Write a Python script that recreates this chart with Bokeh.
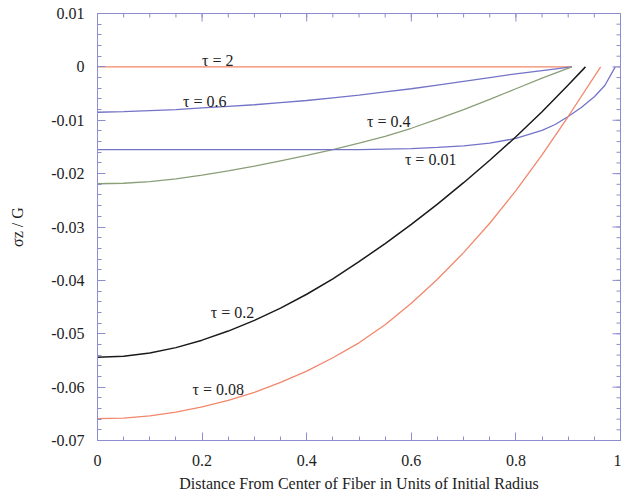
from bokeh.plotting import figure
from bokeh.models import FixedTicker, Range1d
from bokeh.core.properties import value
from bokeh.embed import file_html
from bokeh.resources import INLINE
import numpy as np

# ---- data ----
x_tau2 = [0.0, 0.2, 0.4, 0.6, 0.8, 0.907]
y_tau2 = [0.0, 0.0, 0.0, 0.0, 0.0, 0.0]

x_tau06 = [0.0, 0.05, 0.1, 0.15, 0.2, 0.25, 0.3, 0.35, 0.4, 0.45, 0.5, 0.55, 0.6,
           0.65, 0.7, 0.75, 0.8, 0.85, 0.907]
y_tau06 = [-0.0085, -0.0084, -0.0082, -0.0080, -0.0077, -0.0074, -0.0071, -0.0067,
           -0.0063, -0.0058, -0.0053, -0.0047, -0.0041, -0.0034, -0.0027, -0.0020,
           -0.0013, -0.0007, 0.0]

x_tau04 = [0.0, 0.05, 0.1, 0.15, 0.2, 0.25, 0.3, 0.35, 0.4, 0.45, 0.5, 0.55, 0.6,
           0.65, 0.7, 0.75, 0.8, 0.85, 0.907]
y_tau04 = [-0.0219, -0.0218, -0.0215, -0.0210, -0.0203, -0.0195, -0.0186, -0.0176,
           -0.0166, -0.0155, -0.0143, -0.0130, -0.0115, -0.0098, -0.0080, -0.0061,
           -0.0041, -0.0021, 0.0]

x_tau001 = [0.0, 0.1, 0.2, 0.3, 0.4, 0.5, 0.55, 0.6, 0.65, 0.7, 0.75, 0.8, 0.85,
            0.875, 0.9, 0.925, 0.95, 0.97, 0.99]
y_tau001 = [-0.0155, -0.0155, -0.0155, -0.0155, -0.0155, -0.0155, -0.0154, -0.0153,
            -0.0151, -0.0148, -0.0143, -0.0134, -0.0119, -0.0108, -0.0093, -0.0076,
            -0.0056, -0.0035, 0.0]

x_tau02 = [0.0, 0.05, 0.1, 0.15, 0.2, 0.25, 0.3, 0.35, 0.4, 0.45, 0.5, 0.55, 0.6,
           0.65, 0.7, 0.75, 0.8, 0.85, 0.9, 0.933]
y_tau02 = [-0.0544, -0.0542, -0.0536, -0.0526, -0.0512, -0.0495, -0.0475, -0.0452,
           -0.0426, -0.0397, -0.0365, -0.0331, -0.0295, -0.0257, -0.0217, -0.0175,
           -0.0131, -0.0084, -0.0034, 0.0]

x_tau008 = [0.0, 0.05, 0.1, 0.15, 0.2, 0.25, 0.3, 0.35, 0.4, 0.45, 0.5, 0.55, 0.6,
            0.65, 0.7, 0.75, 0.8, 0.85, 0.9, 0.962]
y_tau008 = [-0.0659, -0.0658, -0.0654, -0.0647, -0.0637, -0.0625, -0.0610, -0.0591,
            -0.0570, -0.0545, -0.0517, -0.0483, -0.0443, -0.0398, -0.0348, -0.0293,
            -0.0232, -0.0165, -0.0093, 0.0]

label_texts = ["τ = 2", "τ = 0.6", "τ = 0.4", "τ = 0.01", "τ = 0.2", "τ = 0.08"]
label_x = [0.230, 0.205, 0.557, 0.637, 0.258, 0.231]
label_y = [0.0012, -0.0064, -0.0102, -0.0173, -0.0460, -0.0604]

x_ticks = [0.0, 0.2, 0.4, 0.6, 0.8, 1.0]
x_tick_labels = ["0", "0.2", "0.4", "0.6", "0.8", "1"]
y_ticks = [0.01, 0.0, -0.01, -0.02, -0.03, -0.04, -0.05, -0.06, -0.07]
y_tick_labels = ["0.01", "0", "-0.01", "-0.02", "-0.03", "-0.04", "-0.05", "-0.06", "-0.07"]

x_label = "Distance From Center of Fiber in Units of Initial Radius"
y_label = "σz / G"

# ---- styling ----
ORANGE = "#f2876b"
BLUE = "#7373c8"
GREEN = "#8a9f78"
BLACK = "#1a1a1a"
AXIS = "#8c8cd0"
SERIF = "Liberation Serif"

W, H = 621, 498
BL, BR, BT, BB = 97, 1, 13, 58
X0, X1, Y0, Y1 = 0.0, 1.0, -0.07, 0.01

p = figure(width=W, height=H, output_backend="svg", toolbar_location=None,
           x_range=Range1d(X0, X1), y_range=Range1d(Y0, Y1),
           min_border_left=BL, min_border_right=BR, min_border_top=BT, min_border_bottom=BB,
           background_fill_color="white", border_fill_color="white")
p.grid.visible = False
p.outline_line_color = AXIS

x_minor = [round(v, 4) for v in np.arange(0, 1.0001, 0.05)]
y_minor = [round(v, 4) for v in np.arange(-0.07, 0.0101, 0.002)]
xt = FixedTicker(ticks=x_ticks, minor_ticks=x_minor)
yt = FixedTicker(ticks=y_ticks, minor_ticks=y_minor)

MAJ, MIN = 8, 4

def style_axis(ax, ticker, labels):
    ax.ticker = ticker
    ax.axis_line_color = AXIS
    ax.major_tick_line_color = AXIS
    ax.minor_tick_line_color = AXIS
    ax.major_tick_in = MAJ
    ax.major_tick_out = 0
    ax.minor_tick_in = MIN
    ax.minor_tick_out = 0
    ax.major_label_text_font = SERIF
    ax.major_label_text_color = "#222222"
    ax.major_label_text_font_size = "16px"
    ax.axis_label_text_font = SERIF
    ax.axis_label_text_font_style = "normal"
    ax.axis_label_text_color = "#222222"
    ax.axis_label_text_font_size = "16px"
    ax.major_label_overrides = labels

style_axis(p.xaxis[0], xt, dict(zip(x_ticks, x_tick_labels)))
style_axis(p.yaxis[0], yt, dict(zip(y_ticks, y_tick_labels)))
p.xaxis[0].axis_label = x_label
p.yaxis[0].axis_label = y_label
p.xaxis[0].major_label_standoff = 14
p.xaxis[0].axis_label_standoff = 6
p.yaxis[0].major_label_standoff = 13
p.yaxis[0].axis_label_standoff = 22

# inward ticks on the top and right edges (mirrors of the bottom / left axes)
fw = W - BL - BR
fh = H - BT - BB
dx = (X1 - X0) / fw   # data units per pixel
dy = (Y1 - Y0) / fh
p.segment(x0=x_ticks, y0=[Y1] * len(x_ticks), x1=x_ticks, y1=[Y1 - MAJ * dy] * len(x_ticks),
          line_color=AXIS, line_width=1)
p.segment(x0=x_minor, y0=[Y1] * len(x_minor), x1=x_minor, y1=[Y1 - MIN * dy] * len(x_minor),
          line_color=AXIS, line_width=1)
p.segment(x0=[X1] * len(y_ticks), y0=y_ticks, x1=[X1 - MAJ * dx] * len(y_ticks), y1=y_ticks,
          line_color=AXIS, line_width=1)
p.segment(x0=[X1] * len(y_minor), y0=y_minor, x1=[X1 - MIN * dx] * len(y_minor), y1=y_minor,
          line_color=AXIS, line_width=1)

p.line(x_tau2, y_tau2, line_color=ORANGE, line_width=1.3)
p.line(x_tau06, y_tau06, line_color=BLUE, line_width=1.3)
p.line(x_tau04, y_tau04, line_color=GREEN, line_width=1.3)
p.line(x_tau001, y_tau001, line_color=BLUE, line_width=1.3)
p.line(x_tau02, y_tau02, line_color=BLACK, line_width=1.5)
p.line(x_tau008, y_tau008, line_color=ORANGE, line_width=1.3)

p.text(x=label_x, y=label_y, text=label_texts, text_font=value(SERIF),
       text_font_size="16px", text_color="#222222", text_align="center",
       text_baseline="middle")

open("out.html", "w").write(file_html(p, INLINE))
